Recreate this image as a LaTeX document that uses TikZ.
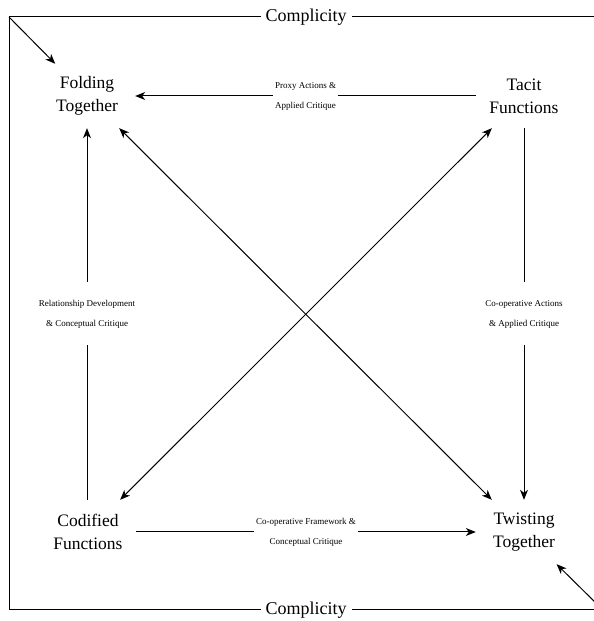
\documentclass[tikz,border=0pt]{standalone}
\usepackage{fontspec}
\setmainfont{Liberation Serif}
\usetikzlibrary{arrows.meta}
\begin{document}
\begin{tikzpicture}[x=1pt,y=1pt,
  box/.style={minimum width=96pt,minimum height=64pt,inner sep=0pt,align=center,
    font=\fontsize{17.5}{23}\selectfont},
  lab/.style={fill=white,inner sep=2pt,align=center,font=\fontsize{9}{20}\selectfont},
  vlab/.style={fill=white,inner sep=0pt,minimum height=63pt,align=center,font=\fontsize{9}{20}\selectfont},
  title/.style={fill=white,inner sep=5pt,font=\fontsize{18}{22}\selectfont},
  line/.style={line width=1pt},
  arr/.style={line width=1pt,-{Stealth[length=10pt,width=8pt,inset=3pt]}},
  darr/.style={line width=1pt,{Stealth[length=10pt,width=8pt,inset=3pt]}-{Stealth[length=10pt,width=8pt,inset=3pt]}}]
\clip (0,0) rectangle (594,621);
\fill[white] (0,0) rectangle (594,621);
% frame corners
\coordinate (tl) at (9,604);
\coordinate (tr) at (603,604);
\coordinate (bl) at (9,11);
\coordinate (br) at (603,11);
\draw[line] (tr) -- (tl) -- (bl) -- (br) -- (tr);
\node[title] (ctop) at (306,604) {Complicity};
\node[title] (cbot) at (306,11) {Complicity};
% main nodes
\node[box] (fold) at (87,525) {Folding\\Together};
\node[box] (tacit) at (524,525) {Tacit\\Functions};
\node[box] (cod) at (88,89) {Codified\\Functions};
\node[box] (twist) at (524,89) {Twisting\\Together};
% connectors
\draw[arr] (tl) -- (fold);
\draw[arr] (br) -- (twist);
\draw[arr] (tacit) -- (fold) node[midway,lab] (l1) {Proxy Actions \&\\Applied Critique};
\draw[arr] (cod) -- (twist) node[midway,lab] (l2) {Co-operative Framework \&\\Conceptual Critique};
\draw[arr] (cod.north -| fold) -- (fold) node[midway,vlab] (l3) {Relationship Development\\\& Conceptual Critique};
\draw[arr] (tacit) -- (twist) node[midway,vlab] (l4) {Co-operative Actions\\\& Applied Critique};
\draw[darr] (fold) -- (twist);
\draw[darr] (tacit) -- (cod);
\end{tikzpicture}
\end{document}
